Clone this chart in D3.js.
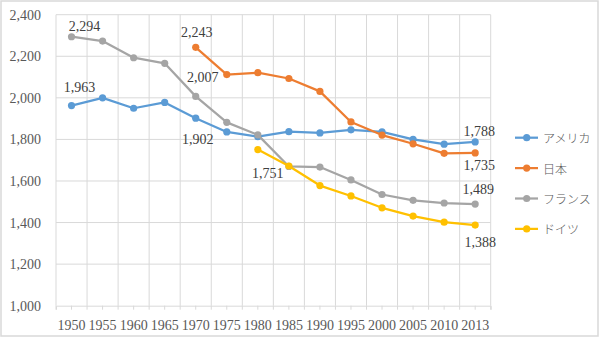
<!DOCTYPE html>
<html><head><meta charset="utf-8">
<script src="https://cdn.jsdelivr.net/npm/d3@7"></script>
<style>html,body{margin:0;padding:0;background:#fff;}svg{display:block;}</style>
</head><body>
<svg id="c" width="600" height="338"></svg>
<script>
const years = ["1950","1955","1960","1965","1970","1975","1980","1985","1990","1995","2000","2005","2010","2013"];
const usa    = [1963,2000,1950,1978,1902,1836,1813,1837,1831,1846,1836,1800,1777,1788];
const japan  = [null,null,null,null,2243,2112,2121,2093,2031,1884,1821,1779,1733,1735];
const france = [2294,2273,2193,2166,2007,1882,1822,1670,1667,1605,1535,1507,1494,1489];
const germany= [null,null,null,null,null,null,1751,1672,1578,1528,1471,1431,1402,1388];
const seriesNames = ["アメリカ","日本","フランス","ドイツ"];
const yTicks = [1000,1200,1400,1600,1800,2000,2200,2400];
const colors = ["#5B9BD5","#ED7D31","#A5A5A5","#FFC000"];
// data labels: series index, point index, offset
const labels = [
  {s:2,i:0,dx:13,dy:-10},
  {s:0,i:0,dx:8,dy:-18},
  {s:1,i:4,dx:1,dy:-15},
  {s:2,i:4,dx:7,dy:-19},
  {s:0,i:4,dx:2,dy:21},
  {s:3,i:6,dx:10,dy:24},
  {s:0,i:13,dx:4,dy:-10},
  {s:1,i:13,dx:4,dy:13},
  {s:2,i:13,dx:3,dy:-15},
  {s:3,i:13,dx:5,dy:17}
];
const data = [usa,japan,france,germany];

const svg = d3.select("#c");
const W=600,H=338;
svg.append("rect").attr("x",1).attr("y",1).attr("width",597).attr("height",335)
  .attr("fill","#fff").attr("stroke","#d9d9d9").attr("stroke-width",1.5);

const L=56,R=490.7,T=14.7,B=305.7;
const x = d3.scaleBand().domain(years).range([L,R]).paddingInner(0).paddingOuter(0);
const y = d3.scaleLinear().domain([1000,2400]).range([B,T]);
const grid="#d9d9d9";
const font="'Liberation Serif','DejaVu Serif',serif";

// horizontal gridlines
svg.append("g").selectAll("line").data(yTicks.filter(d=>d>1000)).join("line")
  .attr("x1",L).attr("x2",R).attr("y1",d=>y(d)).attr("y2",d=>y(d))
  .attr("stroke",grid).attr("stroke-width",1);
// vertical gridlines at category boundaries
const bounds = years.map(d=>x(d)).concat([R]);
svg.append("g").selectAll("line").data(bounds).join("line")
  .attr("x1",d=>d).attr("x2",d=>d).attr("y1",T).attr("y2",B)
  .attr("stroke",grid).attr("stroke-width",1);

// x axis
const xa = svg.append("g").attr("transform",`translate(0,${B})`)
  .call(d3.axisBottom(x).tickSize(4).tickPadding(10));
xa.select(".domain").attr("stroke","#d9d9d9");
xa.selectAll(".tick line").attr("stroke","#d9d9d9");
xa.selectAll("text").attr("font-family",font).attr("font-size",14).attr("fill","#595959");
svg.append("g").selectAll("line").data(bounds).join("line")
  .attr("x1",d=>d).attr("x2",d=>d).attr("y1",B).attr("y2",B+4).attr("stroke","#d9d9d9");

// y axis labels
const ya = svg.append("g").attr("transform",`translate(${L},0)`)
  .call(d3.axisLeft(y).tickValues(yTicks).tickSize(0).tickPadding(15).tickFormat(d3.format(",")));
ya.select(".domain").remove();
ya.selectAll("text").attr("font-family",font).attr("font-size",14).attr("fill","#595959");

// lines
const cx = i=>x(years[i])+x.bandwidth()/2;
data.forEach((arr,s)=>{
  const pts = arr.map((v,i)=>({v,i})).filter(d=>d.v!=null);
  const line = d3.line().x(d=>cx(d.i)).y(d=>y(d.v));
  svg.append("path").datum(pts).attr("d",line).attr("fill","none")
    .attr("stroke",colors[s]).attr("stroke-width",2.25).attr("stroke-linejoin","round");
  svg.append("g").selectAll("circle").data(pts).join("circle")
    .attr("cx",d=>cx(d.i)).attr("cy",d=>y(d.v)).attr("r",3.6).attr("fill",colors[s]);
});

// data labels
const fmt=d3.format(",");
svg.append("g").selectAll("text").data(labels).join("text")
  .attr("x",d=>cx(d.i)+d.dx).attr("y",d=>y(data[d.s][d.i])+d.dy)
  .attr("text-anchor","middle").attr("dominant-baseline","central")
  .attr("font-family",font).attr("font-size",14).attr("fill","#404040")
  .text(d=>fmt(data[d.s][d.i]));

// legend
const lg = svg.append("g");
seriesNames.forEach((n,s)=>{
  const ly = 137.7 + s*30.4;
  lg.append("line").attr("x1",515).attr("x2",538).attr("y1",ly).attr("y2",ly)
    .attr("stroke",colors[s]).attr("stroke-width",2.25);
  lg.append("circle").attr("cx",526.7).attr("cy",ly).attr("r",3.6).attr("fill",colors[s]);
  lg.append("text").attr("x",543).attr("y",ly).attr("dominant-baseline","central")
    .attr("font-family","'Noto Sans CJK JP',sans-serif").attr("font-size",12).attr("font-weight",300)
    .attr("fill","#595959").text(n);
});
</script>
</body></html>
